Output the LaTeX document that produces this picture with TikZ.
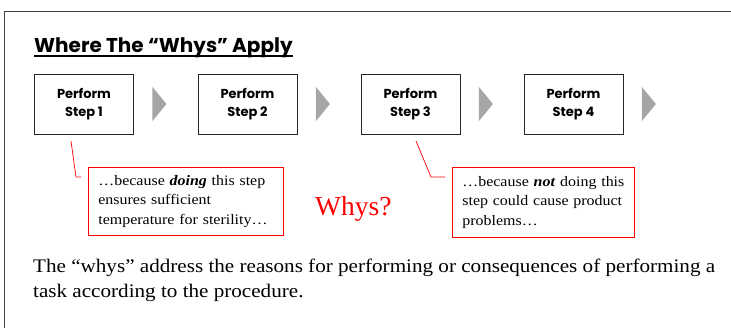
\documentclass[tikz,border=0pt]{standalone}
\usepackage{fontspec}
\setmainfont{Liberation Serif}
\newfontfamily\garam[FakeStretch=1.1]{Liberation Serif}
\newfontfamily\gothic{Poppins}
\usetikzlibrary{calc}
\definecolor{chevgray}{HTML}{A6A6A6}
\definecolor{framegray}{HTML}{404040}
\begin{document}
\begin{tikzpicture}[x=1pt,y=-1pt,
  stepbox/.style={draw=black!85, line width=0.9pt, minimum width=99pt, minimum height=60pt,
    inner sep=0pt, align=center, font=\gothic\bfseries\fontsize{13}{18}\selectfont},
  chev/.style={fill=chevgray, draw=none},
  callout/.style={draw=red, line width=0.8pt, anchor=north west, inner xsep=10pt, inner ysep=0pt,
    align=left, font=\garam\fontsize{14.5}{19.3}\selectfont},
  lead/.style={draw=red, line width=0.7pt},
  txt/.style={inner sep=0pt, anchor=base west}]
\useasboundingbox (0,0) rectangle (731,327);
% frame
\draw[framegray, line width=0.9pt] (4.5,340) -- (4.5,11.5) -- (740,11.5);
% title
\node[txt, font=\gothic\bfseries\fontsize{20}{24}\selectfont] (title) at (34,52) {Where The “Whys” Apply};
\draw[black, line width=1.6pt] (title.south west |- 0,56) -- (title.south east |- 0,56);
% steps
\node[stepbox] (s1) at (84,104) {Perform\\Step 1};
\node[stepbox] (s2) at (247.5,104) {Perform\\Step 2};
\node[stepbox] (s3) at (410.5,104) {Perform\\Step 3};
\node[stepbox] (s4) at (573.5,104) {Perform\\Step 4};
\foreach \s in {s1,s2,s3,s4}{
  \fill[chev] ($(\s.east)+(18.5,-17)$) -- ++(14,17) -- ++(-14,17) -- cycle;
}
% callouts
\node[callout, minimum width=195pt, minimum height=68pt, text width=175pt] (c1) at (88,167)
  {…because \textbf{\textit{doing}} this step\\ensures sufficient\\temperature for sterility…};
\node[callout, minimum width=182pt, minimum height=70pt, text width=162pt] (c2) at (452,167)
  {…because \textbf{\textit{not}} doing this\\step could cause product\\problems…};
\coordinate (a1) at (71,141);
\coordinate (k1) at (76,177);
\coordinate (e1) at (81,177);
\draw[lead] (a1) -- (k1) -- (e1);
\coordinate (a2) at (416,141);
\coordinate (k2) at (431,177);
\coordinate (e2) at (445,177);
\draw[lead] (a2) -- (k2) -- (e2);
% whys
\node[txt, text=red, font=\fontsize{27.5}{30}\selectfont] (why) at (315,215) {Whys?};
% bottom text
\node[txt, font=\garam\fontsize{19.2}{24.5}\selectfont, align=left] (body) at (33,297)
  {The “whys” address the reasons for performing or consequences of performing a\\task according to the procedure.};
\end{tikzpicture}
\end{document}
